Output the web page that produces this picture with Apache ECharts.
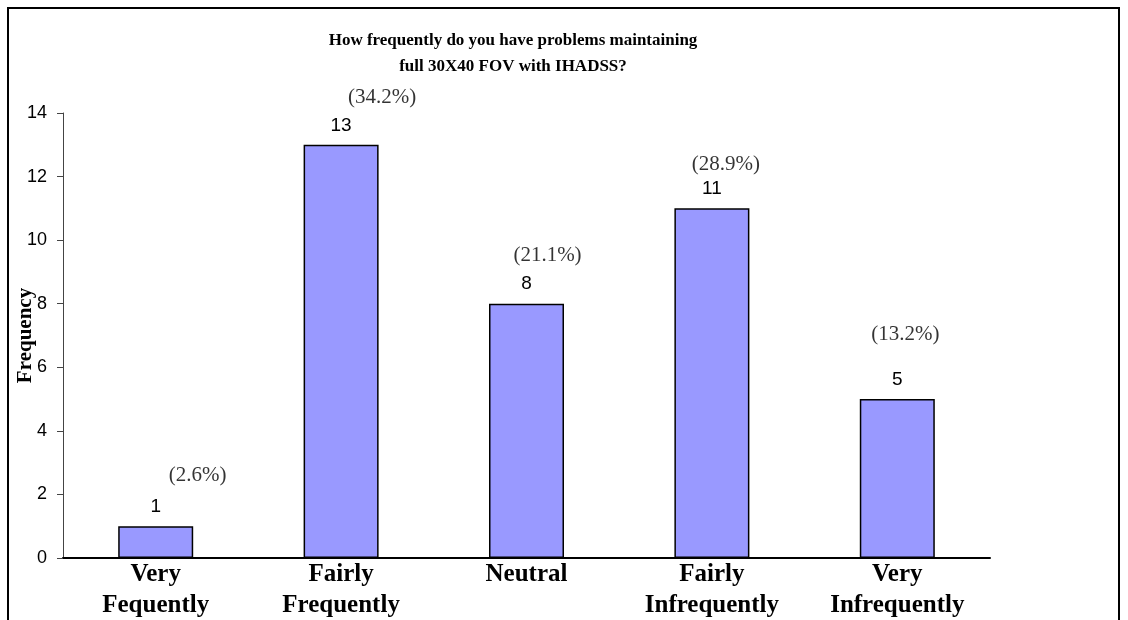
<!DOCTYPE html>
<html>
<head>
<meta charset="utf-8">
<script src="https://cdn.jsdelivr.net/npm/echarts@6/dist/echarts.min.js"></script>
<style>
html,body{margin:0;padding:0;background:#fff;}
#chart{width:1128px;height:620px;position:absolute;left:0;top:0;}
#frame{position:absolute;left:7px;top:7px;width:1113px;height:700px;border:2px solid #000;box-sizing:border-box;pointer-events:none;}
</style>
</head>
<body>
<div id="chart"></div>
<div id="frame"></div>
<script>
const categories = ['Very\nFequently', 'Fairly\nFrequently', 'Neutral', 'Fairly\nInfrequently', 'Very\nInfrequently'];
const counts = [1, 13, 8, 11, 5];
const percentLabels = ['(2.6%)', '(34.2%)', '(21.1%)', '(28.9%)', '(13.2%)'];
const yTicks = { min: 0, max: 14, interval: 2 };
const titleText = 'How frequently do you have problems maintaining\nfull 30X40 FOV with IHADSS?';
const yName = 'Frequency';

// label placement styling (offsets in px), kept separate from the data
const pctOffsets = [[42, -51], [41, -47], [21, -48], [14, -44], [8, -65]];

const serif = '"Liberation Serif", "Times New Roman", serif';
const sans = '"Liberation Sans", Arial, sans-serif';

const chart = echarts.init(document.getElementById('chart'), null, { renderer: 'canvas' });
chart.setOption({
  animation: false,
  backgroundColor: '#fff',
  title: {
    text: titleText,
    left: 508,
    textAlign: 'center',
    top: 23,
    textStyle: { fontFamily: serif, fontSize: 17, fontWeight: 'bold', color: '#000', lineHeight: 26 }
  },
  grid: { left: 63, right: 138, top: 113, bottom: 62, containLabel: false, outerBoundsMode: 'none' },
  xAxis: {
    type: 'category',
    data: categories,
    axisLine: { show: true, lineStyle: { color: '#000', width: 2 } },
    axisTick: { show: false },
    axisLabel: { fontFamily: serif, fontSize: 25, fontWeight: 'bold', color: '#000', lineHeight: 31, margin: 1, interval: 0 }
  },
  yAxis: {
    type: 'value',
    min: yTicks.min,
    max: yTicks.max,
    interval: yTicks.interval,
    name: yName,
    nameLocation: 'middle',
    nameRotate: 90,
    nameGap: 27,
    nameMoveOverlap: false,
    nameTextStyle: { fontFamily: serif, fontSize: 21, fontWeight: 'bold', color: '#000' },
    axisLine: { show: true, lineStyle: { color: '#444', width: 1 } },
    axisTick: { show: true, length: 6, lineStyle: { color: '#444' } },
    axisLabel: { fontFamily: sans, fontSize: 18, color: '#000', margin: 16 },
    splitLine: { show: false }
  },
  series: [
    {
      type: 'bar',
      data: counts,
      barWidth: 75,
      itemStyle: { color: '#9999FF', borderColor: '#000', borderWidth: 1.5 },
      label: { show: true, position: 'top', distance: 10, fontFamily: sans, fontSize: 19, color: '#000' }
    },
    {
      type: 'scatter',
      data: counts.map((v, i) => ({
        value: v,
        label: { offset: pctOffsets[i] }
      })),
      symbolSize: 0,
      silent: true,
      label: {
        show: true,
        position: 'inside',
        fontFamily: serif,
        fontSize: 21,
        color: '#000',
        formatter: p => percentLabels[p.dataIndex]
      }
    }
  ]
});
</script>
</body>
</html>
